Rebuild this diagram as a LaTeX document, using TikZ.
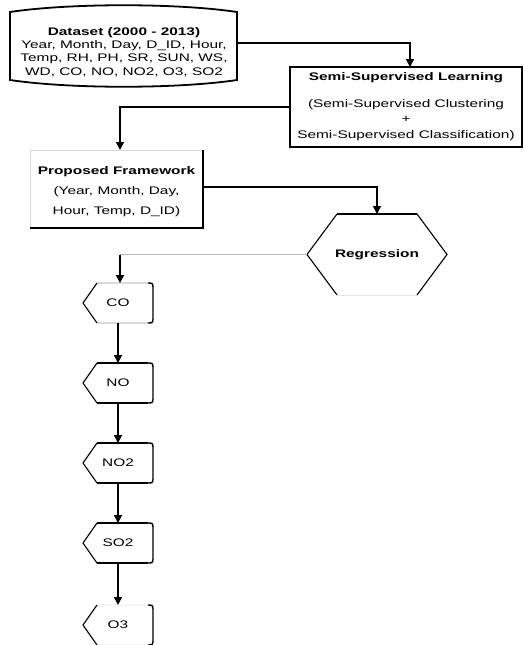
\documentclass[tikz,border=0pt]{standalone}
\usepackage{fontspec}
\setmainfont{Liberation Sans}
\usepackage{graphicx}
\usetikzlibrary{arrows.meta,calc}
\newcommand{\sx}[1]{\scalebox{1.4}[1]{#1}}
\tikzset{
  holder/.style={inner sep=0pt, outer sep=0pt, draw=none},
  txt/.style={inner sep=0pt, font=\fontsize{11}{13.4}\selectfont, align=center},
  conn/.style={line width=1.5pt, -{Triangle[width=8pt,length=8pt]}},
  edge/.style={line width=1.8pt},
  thinedge/.style={line width=1.1pt}
}
\begin{document}
\begin{tikzpicture}[x=1pt,y=-1pt]
\useasboundingbox (0,0) rectangle (523,645);

% ---------- Dataset (barrel shape)
\node[holder, minimum width=227pt, minimum height=68pt] (data) at (123.5,46) {};
\draw[edge] (data.south west) -- (data.north west)
  .. controls ($(data.north west)+(60,-9)$) and ($(data.north east)+(-60,-9)$) .. (data.north east)
  -- (data.south east)
  .. controls ($(data.south east)+(-60,9)$) and ($(data.south west)+(60,9)$) .. (data.south west) -- cycle;
\node[txt] (dataT) at (124,52) {\sx{\textbf{Dataset (2000 - 2013)}}\\\sx{Year, Month, Day, D\_ID, Hour,}\\\sx{Temp, RH, PH, SR, SUN, WS,}\\\sx{WD, CO, NO, NO2, O3, SO2}};

% ---------- Semi-supervised box
\node[holder, minimum width=232pt, minimum height=80pt] (semi) at (406,107) {};
\draw[edge] (semi.north west) rectangle (semi.south east);
\draw[line width=2.4pt] (semi.south west) -- (semi.south east);
\node[txt] (semiT) at (406,78) {\sx{\textbf{Semi-Supervised Learning}}};
\node[txt, font=\fontsize{11}{15.5}\selectfont] (semiS) at (406,120) {\sx{(Semi-Supervised Clustering}\\\sx{+}\\\sx{Semi-Supervised Classification)}};

% ---------- Proposed framework box
\node[holder, minimum width=173pt, minimum height=78pt] (prop) at (116.5,189) {};
\draw[line width=1pt, gray!30] (prop.south west) -- (prop.north west) -- (prop.north east);
\draw[edge] (prop.north east) -- (prop.south east) -- (prop.south west);
\node[txt, font=\fontsize{11}{20}\selectfont] (propT) at (116.5,192) {\sx{\textbf{Proposed Framework}}\\\sx{(Year, Month, Day,}\\\sx{Hour, Temp, D\_ID)}};

% ---------- Regression hexagon
\node[holder, minimum width=140pt, minimum height=81pt, font=\fontsize{11}{13}\selectfont] (reg) at (377,254.5) {\sx{\textbf{Regression}}};
\draw[edge] ($(reg.north west)+(30,0)$) -- ($(reg.north east)+(-30,0)$);
\draw[thinedge] ($(reg.north east)+(-30,0)$) -- (reg.east) -- ($(reg.south east)+(-30,0)$);
\draw[thinedge] ($(reg.north west)+(30,0)$) -- (reg.west) -- ($(reg.south west)+(30,0)$);
\draw[line width=1pt, gray!20] ($(reg.south west)+(30,0)$) -- ($(reg.south east)+(-30,0)$);

% ---------- Output nodes
\foreach \n/\t/\yy in {co/CO/303, no/NO/383, notwo/NO2/463, sotwo/SO2/543, othree/O3/625}{
  \node[holder, minimum width=70pt, minimum height=40pt, font=\fontsize{11}{13}\selectfont] (\n) at (118,\yy) {\sx{\t}};
}
\foreach \n/\tc in {co/gray!30, no/black, notwo/black, sotwo/black, othree/gray!8}{
  \draw[line width=1.4pt, \tc] ($(\n.north west)+(14,0)$) -- ($(\n.north east)+(-5,0)$);
  \draw[line width=1.4pt, \tc] ($(\n.south west)+(14,0)$) -- ($(\n.south east)+(-5,0)$);
  \draw[thinedge] ($(\n.north west)+(14,0)$) -- (\n.west) -- ($(\n.south west)+(14,0)$);
  \draw[line width=1.4pt] ($(\n.north east)+(-5,0)$) .. controls (\n.north east) .. ($(\n.north east)+(0,7)$)
     -- ($(\n.south east)+(0,-7)$) .. controls (\n.south east) .. ($(\n.south east)+(-5,0)$);
}

% ---------- Connectors
\draw[conn] ($(data.east)+(0,-3)$) -| ($(semi.north)+(4,0)$);
\draw[conn] (semi.west) -| ($(prop.north)+(3.5,0)$);
\draw[conn] ($(prop.east)+(0,-2)$) -| (reg.north);
\coordinate (bend) at (120,254.5);
\draw[line width=1.5pt, gray!55] (reg.west) -- (bend);
\draw[conn] (bend) -- ($(co.north)+(2,0)$);
\draw[conn] (co) -- (no);
\draw[conn] (no) -- (notwo);
\draw[conn] (notwo) -- (sotwo);
\draw[conn] (sotwo) -- (othree);
\end{tikzpicture}
\end{document}
